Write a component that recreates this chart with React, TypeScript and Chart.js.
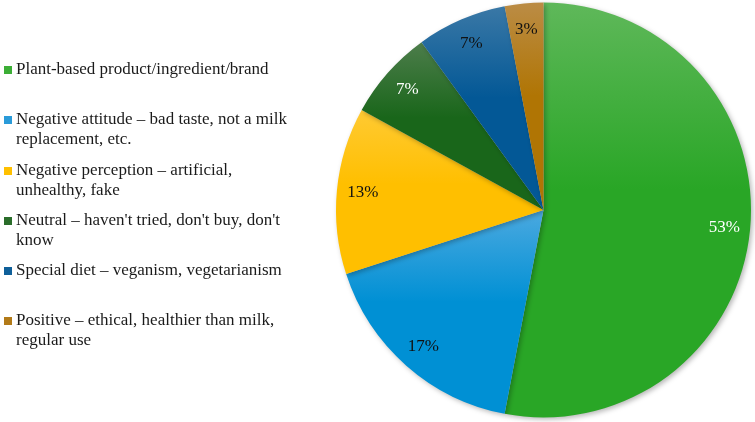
import React, { useEffect, useRef } from "react";
import { Chart, registerables } from "chart.js";

Chart.register(...registerables);

const categories: string[][] = [
  ["Plant-based product/ingredient/brand"],
  ["Negative attitude \u2013 bad taste, not a milk", "replacement, etc."],
  ["Negative perception \u2013 artificial,", "unhealthy, fake"],
  ["Neutral \u2013 haven't tried, don't buy, don't", "know"],
  ["Special diet \u2013 veganism, vegetarianism"],
  ["Positive \u2013 ethical, healthier than milk,", "regular use"],
];
const shares: number[] = [53, 17, 13, 7, 7, 3];
const topColors: string[] = ["#5fb85a", "#4ba9e0", "#ffca33", "#4d7d4b", "#3a78a6", "#bb8c45"];
const bottomColors: string[] = ["#29a626", "#0090d4", "#ffbf00", "#19661a", "#035896", "#b07504"];
const legendColors: string[] = ["#3cae36", "#2a9bd9", "#ffc000", "#2a6d2a", "#0f5f99", "#b27a18"];
const labelColors: string[] = ["#ffffff", "#111111", "#111111", "#ffffff", "#111111", "#111111"];
const legendY: number[] = [70, 120, 171, 221, 271, 321];

const FONT = "'Liberation Serif', serif";

export default function App() {
  const ref = useRef<HTMLCanvasElement | null>(null);
  useEffect(() => {
    if (!ref.current) return;
    const total = shares.reduce((a, b) => a + b, 0);

    const gradientFor = (ctx: any) => {
      const chart = ctx.chart;
      const i = ctx.dataIndex;
      const area = chart.chartArea;
      if (!area || i === undefined) return bottomColors[i ?? 0];
      const cx = (area.left + area.right) / 2;
      const cy = (area.top + area.bottom) / 2;
      const r = Math.min(area.right - area.left, area.bottom - area.top) / 2;
      let acc = 0;
      for (let k = 0; k < i; k++) acc += shares[k];
      const a0 = -Math.PI / 2 + (acc / total) * Math.PI * 2;
      const a1 = a0 + (shares[i] / total) * Math.PI * 2;
      const ys = [cy, cy + r * Math.sin(a0), cy + r * Math.sin(a1)];
      const norm = (a: number) => ((a % (2 * Math.PI)) + 2 * Math.PI) % (2 * Math.PI);
      const inArc = (t: number) => {
        const s = norm(a0);
        const span = a1 - a0;
        const d = norm(t - s);
        return d <= span;
      };
      if (inArc(-Math.PI / 2)) ys.push(cy - r);
      if (inArc(Math.PI / 2)) ys.push(cy + r);
      const y0 = Math.min(...ys);
      const y1 = Math.max(...ys);
      void cx;
      const g = chart.ctx.createLinearGradient(0, y0, 0, y1);
      g.addColorStop(0, topColors[i]);
      g.addColorStop(0.45, bottomColors[i]);
      g.addColorStop(1, bottomColors[i]);
      return g;
    };

    const shadowPlugin = {
      id: "shadow",
      beforeDatasetDraw(chart: any) {
        const c = chart.ctx;
        c.save();
        c.shadowColor = "rgba(0,0,0,0.28)";
        c.shadowBlur = 5;
        c.shadowOffsetX = 2;
        c.shadowOffsetY = 2;
      },
      afterDatasetDraw(chart: any) {
        chart.ctx.restore();
      },
    };

    const labelPlugin = {
      id: "sliceLabels",
      afterDatasetsDraw(chart: any) {
        const c = chart.ctx;
        const meta = chart.getDatasetMeta(0);
        c.save();
        c.font = `17px ${FONT}`;
        c.textAlign = "center";
        c.textBaseline = "middle";
        meta.data.forEach((arc: any, i: number) => {
          const mid = (arc.startAngle + arc.endAngle) / 2;
          const rr = arc.outerRadius * 0.875;
          const x = arc.x + Math.cos(mid) * rr;
          const y = arc.y + Math.sin(mid) * rr;
          c.fillStyle = labelColors[i];
          c.fillText(`${Math.round((shares[i] / total) * 100)}%`, x, y);
        });
        c.restore();
      },
    };

    const legendPlugin = {
      id: "sideLegend",
      afterDraw(chart: any) {
        const c = chart.ctx;
        c.save();
        c.font = `17px ${FONT}`;
        c.textBaseline = "middle";
        c.textAlign = "left";
        categories.forEach((lines, i) => {
          const y = legendY[i];
          c.fillStyle = legendColors[i];
          c.fillRect(4, y - 4, 8, 8);
          c.fillStyle = "#1a1a1a";
          lines.forEach((ln, j) => {
            c.fillText(ln, 16, y + j * 20);
          });
        });
        c.restore();
      },
    };

    const chart = new Chart(ref.current, {
      type: "pie",
      data: {
        labels: categories.map((l) => l.join(" ")),
        datasets: [
          {
            data: shares,
            backgroundColor: gradientFor as any,
            borderWidth: 0,
          },
        ],
      },
      options: {
        animation: false,
        responsive: false,
        maintainAspectRatio: false,
        layout: { padding: { left: 336, right: 4, top: 2, bottom: 4 } },
        plugins: {
          legend: { display: false },
          tooltip: { enabled: false },
        },
      },
      plugins: [shadowPlugin, labelPlugin, legendPlugin],
    });
    return () => chart.destroy();
  }, []);

  return (
    <div style={{ position: "fixed", left: 0, top: 0, width: 755, height: 422, background: "#fff" }}>
      <canvas ref={ref} width={755} height={422} style={{ width: 755, height: 422 }} />
    </div>
  );
}
